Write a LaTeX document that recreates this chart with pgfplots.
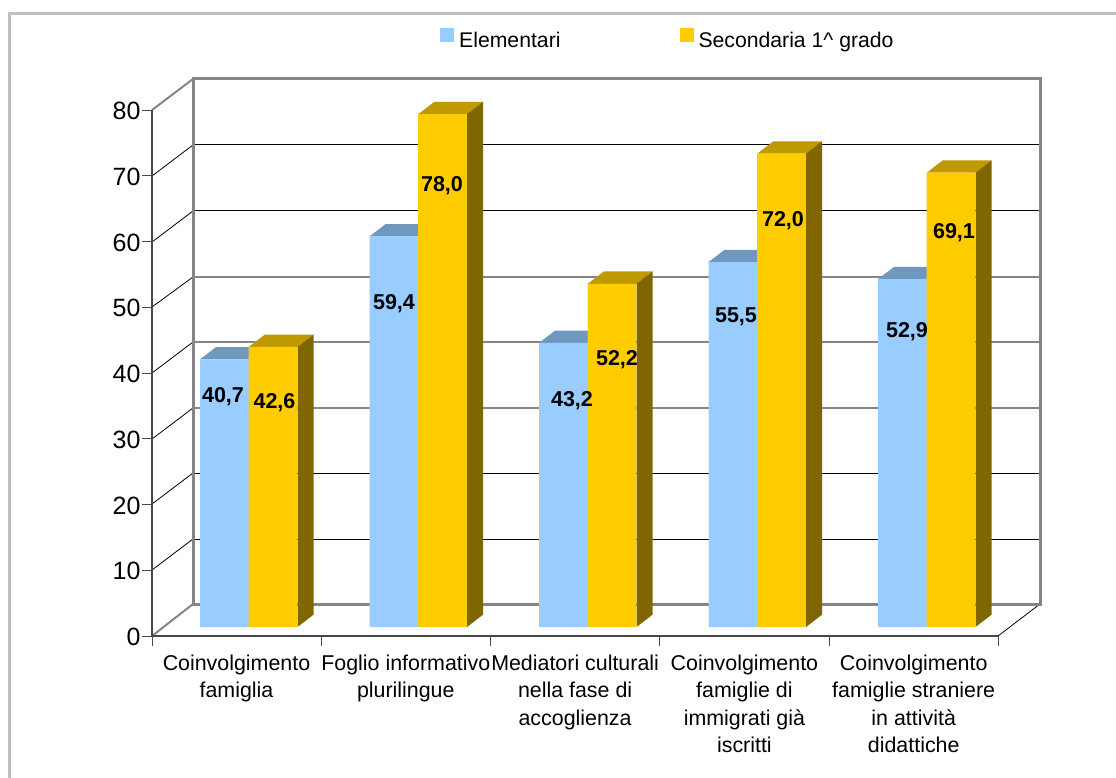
\documentclass[border=0pt]{standalone}
\usepackage{fontspec}
\setmainfont{Liberation Sans}
\usepackage{pgfplots}
\pgfplotsset{compat=1.18}

\definecolor{blu}{HTML}{99CCFF}
\definecolor{blutop}{HTML}{7097BD}
\definecolor{gia}{HTML}{FFCC00}
\definecolor{giatop}{HTML}{BF9900}
\definecolor{giaside}{HTML}{806600}
\definecolor{wall}{HTML}{858585}
\definecolor{frameg}{HTML}{C0C0C0}
\definecolor{axg}{HTML}{484848}

% top and side face of a 3D bar: left x, value, top colour, side colour
\newcommand\barfaces[4]{%
  \pgfmathsetmacro\xa{#1}
  \pgfmathsetmacro\xb{#1+48.75}
  \pgfmathsetmacro\xc{#1+48.75+16}
  \pgfmathsetmacro\xd{#1+16}
  \pgfmathsetmacro\vt{#2+1.87}
  \addplot[forget plot,draw=none,fill=#3,yshift=9pt] coordinates {(\xa,#2) (\xb,#2) (\xc,\vt) (\xd,\vt)};
  \addplot[forget plot,draw=none,fill=#4,yshift=9pt] coordinates {(\xb,0) (\xb,#2) (\xc,\vt) (\xc,1.87)};
}

\begin{document}
\begin{tikzpicture}
\begin{scope}[x=1pt,y=-1pt]
\path[use as bounding box] (0,0) rectangle (1116,778);
% frame
\draw[frameg,line width=3pt] (9.8,778) -- (9.8,13.5) -- (1116,13.5);
% back wall and grid
\foreach \yy in {145,211,473,539} \draw[black,line width=1pt] (193,\yy) -- (1040,\yy);
\foreach \yy in {277,342,408} \draw[wall,line width=1.6pt] (193,\yy) -- (1040,\yy);
\foreach \ya/\yb in {176/145,242/211,307/277,373/342,439/408,504/473,570/539}
  \draw[black,line width=0.8pt] (152,\ya) -- (193,\yb);
\draw[black,line width=0.8pt] (998,636) -- (1040,604);
\draw[wall,line width=3pt] (193,604) -- (193,79) -- (1040,79) -- (1040,604) -- cycle;
\draw[wall,line width=2pt] (152,110) -- (193,79);
\draw[wall,line width=2pt] (152,636) -- (193,604);
\end{scope}

\begin{axis}[
  at={(152pt,-636pt)},
  anchor=south west,
  scale only axis,
  width=846pt,
  height=526pt,
  xmin=152, xmax=998,
  ymin=0, ymax=80,
  clip=false,
  axis x line*=bottom,
  axis y line*=left,
  axis line style={axg,line width=1.8pt,-},
  tick align=outside,
  ytick={0,10,...,80},
  major tick length=10pt,
  ytick style={axg,line width=1pt},
  y tick label style={font=\fontsize{25}{25}\selectfont,/pgf/number format/assume math mode=true,xshift=2pt,yshift=-1pt},
  xtick={236.5,405.8,575.1,744.4,913.7},
  xticklabels={{Coinvolgimento\\famiglia},{Foglio informativo\\plurilingue},{Mediatori culturali\\nella fase di\\accoglienza},{Coinvolgimento\\famiglie di\\immigrati già\\iscritti},{Coinvolgimento\\famiglie straniere\\in attività\\didattiche}},
  x tick label style={font=\fontsize{21.4}{27.3}\selectfont,align=center,anchor=north,yshift=-5.5pt},
  major x tick style={draw=none},
  minor xtick={152,321.3,490.6,659.9,829.2,998},
  minor tick length=10pt,
  minor x tick style={draw=axg,line width=1pt},
  legend columns=2,
  legend cell align=left,
  legend style={at={(axis cs:440,90.75)},anchor=west,draw=none,fill=none,inner sep=0pt,
    font=\fontsize{21.2}{21}\selectfont,/tikz/every even column/.append style={column sep=117pt}},
  legend image code/.code={\fill[#1] (0pt,-11pt) rectangle (14pt,3pt); \path (17pt,0pt);},
]
% Elementari
\barfaces{200}{40.7}{blutop}{blutop}
\barfaces{369.5}{59.4}{blutop}{blutop}
\barfaces{539}{43.2}{blutop}{blutop}
\barfaces{708.5}{55.5}{blutop}{blutop}
\barfaces{878}{52.9}{blutop}{blutop}
\addplot[ybar,bar width=48.75pt,bar shift=0pt,fill=blu,draw=none,yshift=9pt] coordinates
  {(224.4,40.7) (393.9,59.4) (563.4,43.2) (732.9,55.5) (902.4,52.9)};
\addlegendentry{Elementari}
% Secondaria
\barfaces{248.75}{42.6}{giatop}{giaside}
\barfaces{418.25}{78.0}{giatop}{giaside}
\barfaces{587.75}{52.2}{giatop}{giaside}
\barfaces{757.25}{72.0}{giatop}{giaside}
\barfaces{926.75}{69.1}{giatop}{giaside}
\addplot[ybar,bar width=48.75pt,bar shift=0pt,fill=gia,draw=none,yshift=9pt] coordinates
  {(273.1,42.6) (442.6,78.0) (612.1,52.2) (781.6,72.0) (951.1,69.1)};
\addlegendentry{Secondaria 1\^{} grado}
\end{axis}

% value labels
\begin{scope}[x=1pt,y=-1pt]
\foreach \xx/\yy/\tt in {223/397/{40,7},274.5/403/{42,6},394/304/{59,4},442/186/{78,0},572/401/{43,2},617/360/{52,2},736/317/{55,5},783/221/{72,0},907/332/{52,9},954/233/{69,1}}
  \node[font=\fontsize{21.5}{21}\selectfont\bfseries,inner sep=0pt] at (\xx,\yy) {\tt};
\end{scope}
\end{tikzpicture}
\end{document}
